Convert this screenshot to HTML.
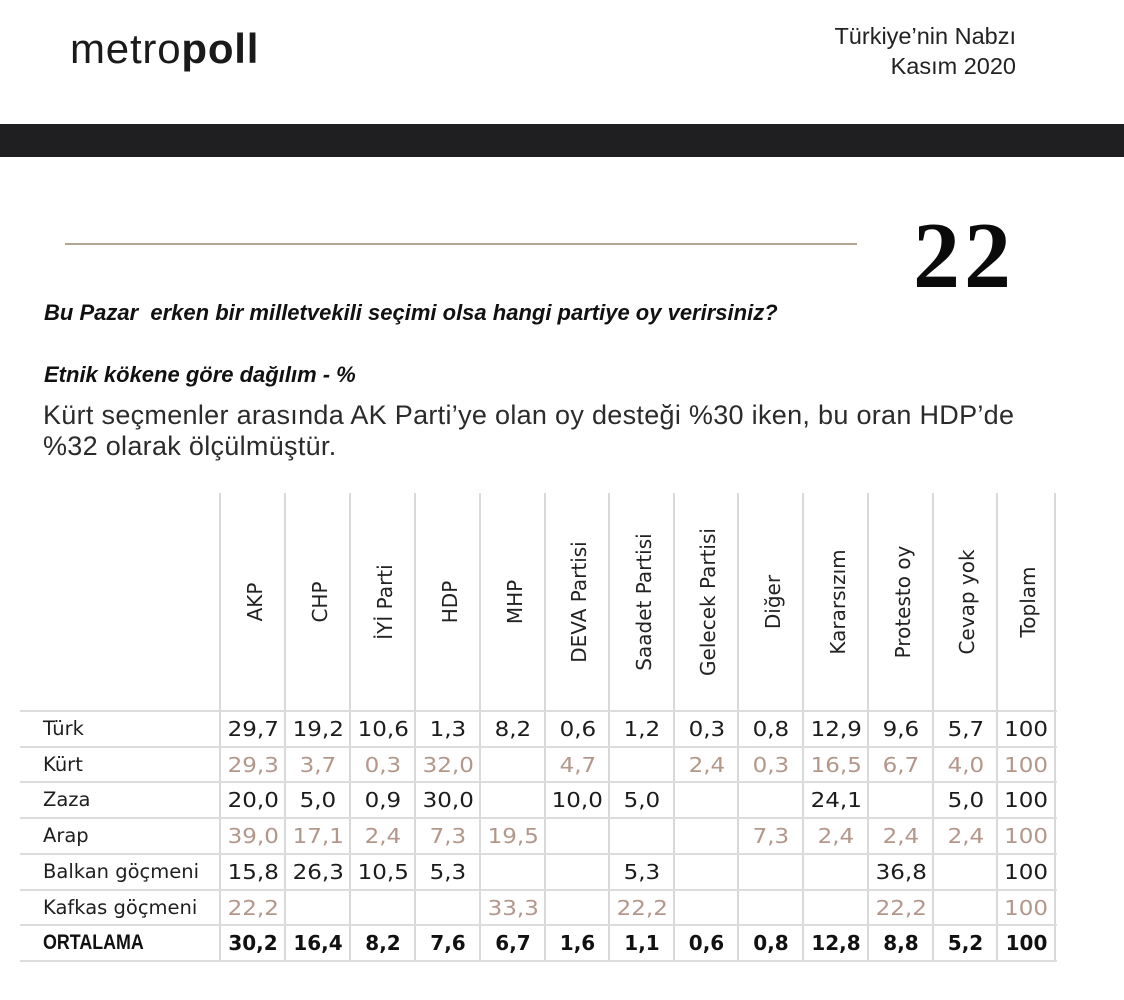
<!DOCTYPE html>
<html>
<head>
<meta charset="utf-8">
<style>
  html,body{margin:0;padding:0;background:#fff;}
  body{width:1124px;height:1000px;position:relative;overflow:hidden;font-family:"Liberation Sans",sans-serif;color:#1c1c1c;}
  .abs{position:absolute;white-space:nowrap;}
  .vl{position:absolute;width:2px;background:#d9d9d9;top:493px;height:469px;}
  .hl{position:absolute;height:2px;background:#dcdcdc;left:20px;width:1037px;}
  .hdr{position:absolute;top:602px;font-family:"DejaVu Sans",sans-serif;font-size:20px;color:#222;white-space:nowrap;transform:translate(-50%,-50%) rotate(-90deg);line-height:24px;}
  .lbl{position:absolute;left:43px;height:36px;line-height:36px;font-family:"DejaVu Sans",sans-serif;font-size:19.5px;color:#1e1e1e;white-space:nowrap;}
  .num{position:absolute;height:36px;line-height:36px;text-align:center;font-family:"DejaVu Sans",sans-serif;font-size:20px;white-space:nowrap;}
  .num span{display:inline-block;transform:scaleX(1.15);}
  .tan{color:#b3978a;}
  .dark{color:#1c1c1c;}
  .bold{font-weight:bold;color:#111;}
  .bold span{transform:none;}
</style>
</head>
<body>

<!-- Logo -->
<div class="abs" style="left:70px;top:25px;font-size:42px;line-height:48px;letter-spacing:0.8px;color:#1a1a1a;">metro<b>poll</b></div>

<!-- Right header text -->
<div class="abs" style="right:108px;top:21px;font-size:23.5px;line-height:30px;color:#222;text-align:right;">Türkiye’nin Nabzı</div>
<div class="abs" style="right:108px;top:51px;font-size:23.5px;line-height:30px;color:#222;text-align:right;">Kasım 2020</div>

<!-- Black bar -->
<div class="abs" style="left:0;top:124px;width:1124px;height:33px;background:#1f1f21;"></div>

<!-- Rule -->
<div class="abs" style="left:65px;top:243px;width:792px;height:2px;background:#b3a493;"></div>

<!-- Page number -->
<div class="abs" style="left:913px;top:206px;font-family:'Liberation Serif',serif;font-weight:bold;font-size:94px;line-height:100px;letter-spacing:4px;color:#0a0a0a;">22</div>

<!-- Titles -->
<div class="abs" style="left:44px;top:298px;font-size:22px;line-height:30px;font-weight:bold;font-style:italic;color:#111;">Bu Pazar&nbsp; erken bir milletvekili seçimi olsa hangi partiye oy verirsiniz?</div>
<div class="abs" style="left:44px;top:360px;font-size:22px;line-height:30px;font-weight:bold;font-style:italic;color:#111;">Etnik kökene göre dağılım - %</div>

<!-- Paragraph -->
<div class="abs" style="left:43px;top:400px;font-size:27px;line-height:30px;letter-spacing:0.3px;color:#2b2b2b;">Kürt seçmenler arasında AK Parti’ye olan oy desteği %30 iken, bu oran HDP’de</div>
<div class="abs" style="left:43px;top:431px;font-size:27px;line-height:30px;letter-spacing:0.3px;color:#2b2b2b;">%32 olarak ölçülmüştür.</div>

<!-- Table vertical lines -->
<div class="vl" style="left:219px;"></div>
<div class="vl" style="left:284px;"></div>
<div class="vl" style="left:349px;"></div>
<div class="vl" style="left:414px;"></div>
<div class="vl" style="left:479px;"></div>
<div class="vl" style="left:544px;"></div>
<div class="vl" style="left:608px;"></div>
<div class="vl" style="left:673px;"></div>
<div class="vl" style="left:737px;"></div>
<div class="vl" style="left:802px;"></div>
<div class="vl" style="left:867px;"></div>
<div class="vl" style="left:932px;"></div>
<div class="vl" style="left:996px;"></div>
<div class="vl" style="left:1054px;"></div>

<!-- Table horizontal lines -->
<div class="hl" style="top:710px;"></div>
<div class="hl" style="top:746px;"></div>
<div class="hl" style="top:781px;"></div>
<div class="hl" style="top:817px;"></div>
<div class="hl" style="top:853px;"></div>
<div class="hl" style="top:889px;"></div>
<div class="hl" style="top:924px;"></div>
<div class="hl" style="top:960px;"></div>

<!-- Column headers -->
<div class="hdr" style="left:255px;">AKP</div>
<div class="hdr" style="left:320px;">CHP</div>
<div class="hdr" style="left:385px;">İYİ Parti</div>
<div class="hdr" style="left:450px;">HDP</div>
<div class="hdr" style="left:515px;">MHP</div>
<div class="hdr" style="left:579px;">DEVA Partisi</div>
<div class="hdr" style="left:644px;">Saadet Partisi</div>
<div class="hdr" style="left:708px;">Gelecek Partisi</div>
<div class="hdr" style="left:773px;">Diğer</div>
<div class="hdr" style="left:838px;">Kararsızım</div>
<div class="hdr" style="left:903px;">Protesto oy</div>
<div class="hdr" style="left:967px;">Cevap yok</div>
<div class="hdr" style="left:1028px;">Toplam</div>

<!-- Row labels -->
<div class="lbl" style="top:711px;">Türk</div>
<div class="lbl" style="top:747px;">Kürt</div>
<div class="lbl" style="top:782px;">Zaza</div>
<div class="lbl" style="top:818px;">Arap</div>
<div class="lbl" style="top:854px;">Balkan göçmeni</div>
<div class="lbl" style="top:890px;">Kafkas göçmeni</div>
<div class="abs" style="left:43px;top:925px;height:36px;line-height:36px;font-size:21px;font-weight:bold;color:#111;transform:scaleX(0.85);transform-origin:left center;">ORTALAMA</div>

<!-- Row: Türk (top 711) -->
<div class="num dark" style="top:711px;left:221px;width:64px;"><span>29,7</span></div>
<div class="num dark" style="top:711px;left:286px;width:64px;"><span>19,2</span></div>
<div class="num dark" style="top:711px;left:351px;width:64px;"><span>10,6</span></div>
<div class="num dark" style="top:711px;left:416px;width:64px;"><span>1,3</span></div>
<div class="num dark" style="top:711px;left:481px;width:64px;"><span>8,2</span></div>
<div class="num dark" style="top:711px;left:546px;width:63px;"><span>0,6</span></div>
<div class="num dark" style="top:711px;left:610px;width:64px;"><span>1,2</span></div>
<div class="num dark" style="top:711px;left:675px;width:63px;"><span>0,3</span></div>
<div class="num dark" style="top:711px;left:739px;width:64px;"><span>0,8</span></div>
<div class="num dark" style="top:711px;left:804px;width:64px;"><span>12,9</span></div>
<div class="num dark" style="top:711px;left:869px;width:64px;"><span>9,6</span></div>
<div class="num dark" style="top:711px;left:934px;width:63px;"><span>5,7</span></div>
<div class="num dark" style="top:711px;left:998px;width:57px;"><span>100</span></div>

<!-- Row: Kürt (top 747) -->
<div class="num tan" style="top:747px;left:221px;width:64px;"><span>29,3</span></div>
<div class="num tan" style="top:747px;left:286px;width:64px;"><span>3,7</span></div>
<div class="num tan" style="top:747px;left:351px;width:64px;"><span>0,3</span></div>
<div class="num tan" style="top:747px;left:416px;width:64px;"><span>32,0</span></div>
<div class="num tan" style="top:747px;left:546px;width:63px;"><span>4,7</span></div>
<div class="num tan" style="top:747px;left:675px;width:63px;"><span>2,4</span></div>
<div class="num tan" style="top:747px;left:739px;width:64px;"><span>0,3</span></div>
<div class="num tan" style="top:747px;left:804px;width:64px;"><span>16,5</span></div>
<div class="num tan" style="top:747px;left:869px;width:64px;"><span>6,7</span></div>
<div class="num tan" style="top:747px;left:934px;width:63px;"><span>4,0</span></div>
<div class="num tan" style="top:747px;left:998px;width:57px;"><span>100</span></div>

<!-- Row: Zaza (top 782) -->
<div class="num dark" style="top:782px;left:221px;width:64px;"><span>20,0</span></div>
<div class="num dark" style="top:782px;left:286px;width:64px;"><span>5,0</span></div>
<div class="num dark" style="top:782px;left:351px;width:64px;"><span>0,9</span></div>
<div class="num dark" style="top:782px;left:416px;width:64px;"><span>30,0</span></div>
<div class="num dark" style="top:782px;left:546px;width:63px;"><span>10,0</span></div>
<div class="num dark" style="top:782px;left:610px;width:64px;"><span>5,0</span></div>
<div class="num dark" style="top:782px;left:804px;width:64px;"><span>24,1</span></div>
<div class="num dark" style="top:782px;left:934px;width:63px;"><span>5,0</span></div>
<div class="num dark" style="top:782px;left:998px;width:57px;"><span>100</span></div>

<!-- Row: Arap (top 818) -->
<div class="num tan" style="top:818px;left:221px;width:64px;"><span>39,0</span></div>
<div class="num tan" style="top:818px;left:286px;width:64px;"><span>17,1</span></div>
<div class="num tan" style="top:818px;left:351px;width:64px;"><span>2,4</span></div>
<div class="num tan" style="top:818px;left:416px;width:64px;"><span>7,3</span></div>
<div class="num tan" style="top:818px;left:481px;width:64px;"><span>19,5</span></div>
<div class="num tan" style="top:818px;left:739px;width:64px;"><span>7,3</span></div>
<div class="num tan" style="top:818px;left:804px;width:64px;"><span>2,4</span></div>
<div class="num tan" style="top:818px;left:869px;width:64px;"><span>2,4</span></div>
<div class="num tan" style="top:818px;left:934px;width:63px;"><span>2,4</span></div>
<div class="num tan" style="top:818px;left:998px;width:57px;"><span>100</span></div>

<!-- Row: Balkan göçmeni (top 854) -->
<div class="num dark" style="top:854px;left:221px;width:64px;"><span>15,8</span></div>
<div class="num dark" style="top:854px;left:286px;width:64px;"><span>26,3</span></div>
<div class="num dark" style="top:854px;left:351px;width:64px;"><span>10,5</span></div>
<div class="num dark" style="top:854px;left:416px;width:64px;"><span>5,3</span></div>
<div class="num dark" style="top:854px;left:610px;width:64px;"><span>5,3</span></div>
<div class="num dark" style="top:854px;left:869px;width:64px;"><span>36,8</span></div>
<div class="num dark" style="top:854px;left:998px;width:57px;"><span>100</span></div>

<!-- Row: Kafkas göçmeni (top 890) -->
<div class="num tan" style="top:890px;left:221px;width:64px;"><span>22,2</span></div>
<div class="num tan" style="top:890px;left:481px;width:64px;"><span>33,3</span></div>
<div class="num tan" style="top:890px;left:610px;width:64px;"><span>22,2</span></div>
<div class="num tan" style="top:890px;left:869px;width:64px;"><span>22,2</span></div>
<div class="num tan" style="top:890px;left:998px;width:57px;"><span>100</span></div>

<!-- Row: ORTALAMA (top 925) -->
<div class="num bold" style="top:925px;left:221px;width:64px;"><span>30,2</span></div>
<div class="num bold" style="top:925px;left:286px;width:64px;"><span>16,4</span></div>
<div class="num bold" style="top:925px;left:351px;width:64px;"><span>8,2</span></div>
<div class="num bold" style="top:925px;left:416px;width:64px;"><span>7,6</span></div>
<div class="num bold" style="top:925px;left:481px;width:64px;"><span>6,7</span></div>
<div class="num bold" style="top:925px;left:546px;width:63px;"><span>1,6</span></div>
<div class="num bold" style="top:925px;left:610px;width:64px;"><span>1,1</span></div>
<div class="num bold" style="top:925px;left:675px;width:63px;"><span>0,6</span></div>
<div class="num bold" style="top:925px;left:739px;width:64px;"><span>0,8</span></div>
<div class="num bold" style="top:925px;left:804px;width:64px;"><span>12,8</span></div>
<div class="num bold" style="top:925px;left:869px;width:64px;"><span>8,8</span></div>
<div class="num bold" style="top:925px;left:934px;width:63px;"><span>5,2</span></div>
<div class="num bold" style="top:925px;left:998px;width:57px;"><span>100</span></div>

</body>
</html>
